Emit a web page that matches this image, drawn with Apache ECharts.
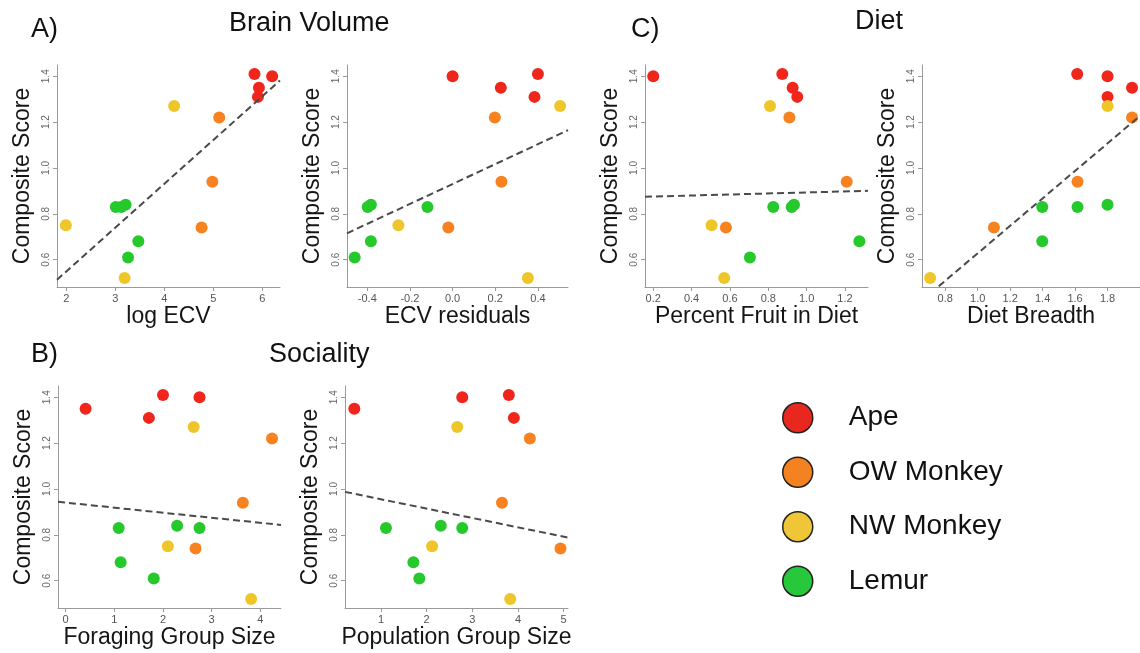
<!DOCTYPE html>
<html>
<head>
<meta charset="utf-8">
<script src="https://cdn.jsdelivr.net/npm/echarts@6/dist/echarts.min.js"></script>
<style>
html,body{margin:0;padding:0;background:#fff;}
#chart{width:1140px;height:653px;}
</style>
</head>
<body>
<div id="chart"></div>
<script>
// ---- data ----
const groups = ['Ape', 'OW Monkey', 'NW Monkey', 'Lemur'];
const groupColors = ['#f0261c', '#f7821f', '#efc62a', '#25c92c'];
const legendColors = ['#e8281e', '#f58220', '#efc637', '#28c83c'];

// composite scores per group (same animals in every panel, same order)
const apeScore   = [1.41, 1.40, 1.35, 1.31];
const owScore    = [1.22, 0.94, 0.74];
const nwScore    = [1.27, 0.75, 0.52];
const lemurScore = [0.84, 0.83, 0.83, 0.68, 0.61];

// predictor values per panel, in the order of the score arrays (null = not visible)
const logECV_ape = [5.84, 6.20, 5.93, 5.91];
const logECV_ow  = [5.12, 4.98, 4.76];
const logECV_nw  = [4.20, 1.99, 3.19];
const logECV_lem = [3.21, 3.01, 3.12, 3.47, 3.26];

const ecvRes_ape = [0.40, 0.00, 0.226, 0.384];
const ecvRes_ow  = [0.198, 0.229, -0.020];
const ecvRes_nw  = [0.504, -0.254, 0.353];
const ecvRes_lem = [-0.383, -0.398, -0.118, -0.383, -0.459];

const fruit_ape = [0.873, 0.20, 0.927, 0.951];
const fruit_ow  = [0.910, 1.209, 0.579];
const fruit_nw  = [0.809, 0.504, 0.570];
const fruit_lem = [0.934, 0.826, 0.922, 1.275, 0.704];

const breadth_ape = [1.613, 1.80, 1.951, 1.80];
const breadth_ow  = [1.951, 1.615, 1.10];
const breadth_nw  = [1.80, null, 0.707];
const breadth_lem = [1.80, 1.398, 1.615, 1.398, null];

const forage_ape = [2.00, 2.75, 0.41, 1.71];
const forage_ow  = [4.24, 3.64, 2.67];
const forage_nw  = [2.63, 2.10, 3.81];
const forage_lem = [2.29, 1.09, 2.75, 1.13, 1.81];

const pop_ape = [3.80, 2.78, 0.417, 3.91];
const pop_ow  = [4.26, 3.65, 4.93];
const pop_nw  = [2.67, 2.12, 3.83];
const pop_lem = [2.31, 1.11, 2.78, 1.71, 1.84];

// dashed fit lines [intercept, slope]
const fitA1 = [0.167, 0.191];
const fitA2 = [0.930, 0.434];
const fitC1 = [0.871, 0.0223];
const fitC2 = [0.029, 0.599];
const fitB1 = [0.9405, -0.0220];
const fitB2 = [0.996, -0.0408];

// axis names, ranges and tick labels
const xNames = ['log ECV', 'ECV residuals', 'Percent Fruit in Diet', 'Diet Breadth', 'Foraging Group Size', 'Population Group Size'];
const yName = 'Composite Score';
const xRanges = [[1.81, 6.36], [-0.495, 0.541], [0.157, 1.320], [0.657, 2.0], [-0.157, 4.424], [0.213, 5.095]];
const yRange = [0.481, 1.449];
const xTicks = [[2, 3, 4, 5, 6], [-0.4, -0.2, 0, 0.2, 0.4], [0.2, 0.4, 0.6, 0.8, 1.0, 1.2], [0.8, 1.0, 1.2, 1.4, 1.6, 1.8], [0, 1, 2, 3, 4], [1, 2, 3, 4, 5]];
const xDecimals = [0, 1, 1, 1, 0, 0];
const yTicks = [0.6, 0.8, 1.0, 1.2, 1.4];

// ---- build ----
const scores = [apeScore, owScore, nwScore, lemurScore];
const panelX = [
  [logECV_ape, logECV_ow, logECV_nw, logECV_lem],
  [ecvRes_ape, ecvRes_ow, ecvRes_nw, ecvRes_lem],
  [fruit_ape, fruit_ow, fruit_nw, fruit_lem],
  [breadth_ape, breadth_ow, breadth_nw, breadth_lem],
  [forage_ape, forage_ow, forage_nw, forage_lem],
  [pop_ape, pop_ow, pop_nw, pop_lem]
];
const fits = [fitA1, fitA2, fitC1, fitC2, fitB1, fitB2];

const gridBoxes = [
  {left: 57, top: 65, width: 223, height: 222},
  {left: 347, top: 65, width: 221, height: 222},
  {left: 645, top: 65, width: 223, height: 222},
  {left: 922, top: 65, width: 223, height: 222},
  {left: 58, top: 386, width: 223, height: 222},
  {left: 345, top: 386, width: 223, height: 222}
];

const FONT = '"Liberation Sans", Arial, Helvetica, sans-serif';
const axisGray = '#9a9a9a';

const grid = [], xAxis = [], yAxis = [], series = [];
gridBoxes.forEach((g, i) => {
  grid.push(Object.assign({containLabel: false}, g));
  xAxis.push({
    gridIndex: i, type: 'value', min: xRanges[i][0], max: xRanges[i][1],
    name: xNames[i], nameLocation: 'middle', nameGap: 12,
    nameTextStyle: {fontSize: 23, color: '#151515', fontFamily: FONT, verticalAlign: 'top'},
    axisLine: {show: true, onZero: false, lineStyle: {color: axisGray, width: 1}},
    axisTick: {show: true, length: 4, inside: false, customValues: xTicks[i], lineStyle: {color: axisGray}},
    axisLabel: {customValues: xTicks[i], fontSize: 11, color: '#555', fontFamily: FONT, margin: 6,
      formatter: v => Number(v).toFixed(xDecimals[i])},
    splitLine: {show: false}
  });
  yAxis.push({
    gridIndex: i, type: 'value', min: yRange[0], max: yRange[1],
    name: yName, nameLocation: 'middle', nameGap: 23, nameRotate: 90,
    nameTextStyle: {fontSize: 23, color: '#151515', fontFamily: FONT},
    axisLine: {show: true, onZero: false, lineStyle: {color: axisGray, width: 1}},
    axisTick: {show: true, length: 4, customValues: yTicks, lineStyle: {color: axisGray}},
    axisLabel: {customValues: yTicks, rotate: 90, fontSize: 10, color: '#666', fontFamily: FONT, margin: 6,
      formatter: v => Number(v).toFixed(1)},
    splitLine: {show: false}
  });
  groups.forEach((name, gi) => {
    const xs = panelX[i][gi];
    const pts = [];
    xs.forEach((x, k) => { if (x !== null) pts.push([x, scores[gi][k]]); });
    series.push({
      type: 'scatter', name: name, xAxisIndex: i, yAxisIndex: i,
      data: pts, symbol: 'circle', symbolSize: 12,
      itemStyle: {color: groupColors[gi], opacity: 1},
      silent: true, z: 2
    });
  });
  const a = fits[i][0], b = fits[i][1];
  const x0 = xRanges[i][0], x1 = xRanges[i][1];
  series.push({
    type: 'line', name: 'fit' + i, xAxisIndex: i, yAxisIndex: i,
    data: [[x0, a + b * x0], [x1, a + b * x1]],
    symbol: 'none', clip: true, silent: true, z: 3,
    lineStyle: {color: '#4a4a4a', width: 2, type: [7, 4]}
  });
});

const titleStyle = {fontSize: 27, fontWeight: 'normal', color: '#111', fontFamily: FONT};
const title = [
  {text: 'A)', left: 31, top: 16, padding: 0, textStyle: titleStyle},
  {text: 'Brain Volume', left: 229, top: 10, padding: 0, textStyle: titleStyle},
  {text: 'C)', left: 631, top: 16, padding: 0, textStyle: titleStyle},
  {text: 'Diet', left: 855, top: 8, padding: 0, textStyle: titleStyle},
  {text: 'B)', left: 31, top: 341, padding: 0, textStyle: titleStyle},
  {text: 'Sociality', left: 269, top: 341, padding: 0, textStyle: titleStyle}
];

const chart = echarts.init(document.getElementById('chart'), null, {renderer: 'canvas'});
chart.setOption({
  backgroundColor: '#ffffff',
  animation: false,
  title: title,
  grid: grid,
  xAxis: xAxis,
  yAxis: yAxis,
  legend: {
    orient: 'vertical', left: 782, top: 402, padding: 0,
    itemWidth: 30, itemHeight: 30, itemGap: 23,
    selectedMode: false,
    textStyle: {fontSize: 28, color: '#111', fontFamily: FONT, padding: [0, 0, 0, 31]},
    data: groups.map((g, gi) => ({
      name: g, icon: 'circle',
      itemStyle: {color: legendColors[gi], borderColor: '#222', borderWidth: 1.5}
    }))
  },
  series: series
});
</script>
</body>
</html>
